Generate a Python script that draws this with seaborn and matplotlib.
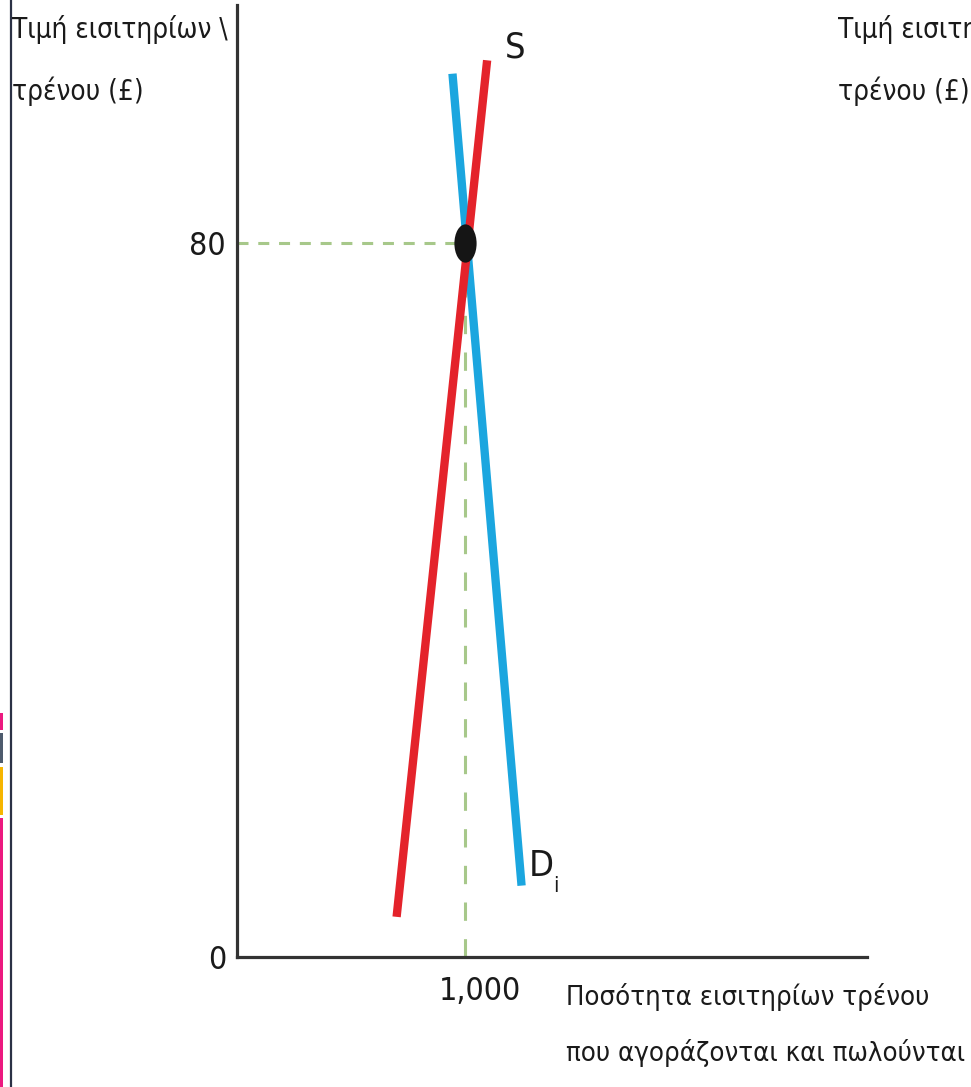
import numpy as np
import matplotlib
matplotlib.use('Agg')
import matplotlib.pyplot as plt
import seaborn as sns
from matplotlib.path import Path
from matplotlib.patches import Rectangle
from matplotlib.transforms import Affine2D, ScaledTranslation

# supply curve S and demand curve D_i (quantity, price)
s_qty = [700, 1097]
s_price = [4.5, 100.5]
d_qty = [945, 1248]
d_price = [99.0, 8.0]

eq_qty = 1000
eq_price = 80

y_ticks = [0, 80]
y_ticklabels = ['0', '80']
x_ticks = [1000]
x_ticklabels = ['1,000']

y_label = ['Τιμή εισιτηρίων \\', 'τρένου (£)']
x_label = ['Ποσότητα εισιτηρίων τρένου', 'που αγοράζονται και πωλούνται']

W, H = 971, 1087

sns.set_theme(style='white')
plt.rcParams['font.family'] = ['DejaVu Sans']
plt.rcParams['font.stretch'] = 'condensed'

fig = plt.figure(figsize=(W / 100, H / 100), dpi=100)


def px(x, y):
    return x / W, 1 - y / H


ax = fig.add_axes([237 / W, 130 / H, 630 / W, 952 / H])
ax.set_xlim(0, 2763)
ax.set_ylim(0, 106.7)

red = '#e4232b'
blue = '#1ba6df'
guide = '#a7c88a'

# dashed guides to the equilibrium
ax.plot([0, eq_qty], [eq_price, eq_price], color=guide, lw=2.2, dashes=(3.6, 3.2), zorder=1)
ax.plot([eq_qty, eq_qty], [0, eq_price], color=guide, lw=2.2, dashes=(6, 6), zorder=1)

sns.lineplot(x=s_qty, y=s_price, ax=ax, color=red, lw=6, sort=False, estimator=None,
             solid_capstyle='butt', zorder=3)
sns.lineplot(x=d_qty, y=d_price, ax=ax, color=blue, lw=6, sort=False, estimator=None,
             solid_capstyle='butt', zorder=2)

# the picture is stretched vertically, so the point is an ellipse
ell = Path.unit_circle().transformed(Affine2D().scale(0.58, 1.0))
sns.scatterplot(x=[eq_qty], y=[eq_price], ax=ax, marker=ell, s=760, color='#151515',
                linewidth=0, zorder=5)

for side in ['top', 'right']:
    ax.spines[side].set_visible(False)
for side in ['left', 'bottom']:
    ax.spines[side].set_color('#333333')
    ax.spines[side].set_linewidth(2.3)

ax.set_yticks(y_ticks, y_ticklabels)
ax.set_xticks(x_ticks, x_ticklabels)
ax.tick_params(axis='y', length=0, pad=8, labelsize=23, colors='#1a1a1a')
ax.tick_params(axis='x', length=0, pad=14, labelsize=23, colors='#1a1a1a')
for lbl in ax.get_xticklabels():
    lbl.set_transform(lbl.get_transform() + ScaledTranslation(15 / 100, 0, fig.dpi_scale_trans))
ax.grid(False)

# curve labels
fig.text(*px(505, 58), 'S', fontsize=26, color='#1a1a1a', va='baseline')
fig.text(*px(529, 876), 'D', fontsize=26, color='#1a1a1a', va='baseline')
fig.text(*px(553, 892), 'i', fontsize=16, color='#1a1a1a', va='baseline')

# axis titles
for i, line in enumerate(y_label):
    fig.text(*px(12, 38 + 62 * i), line, fontsize=20, color='#1a1a1a', va='baseline')
    fig.text(*px(838, 38 + 62 * i), line, fontsize=20, color='#1a1a1a', va='baseline')
for i, line in enumerate(x_label):
    fig.text(*px(566, 1005 + 56 * i), line, fontsize=19.7, color='#1a1a1a', va='baseline')

# page edge and coloured tabs on the left
fig.add_artist(plt.Line2D([11 / W, 11 / W], [0, 1], color='#2b3145', lw=1.6))
tabs = [(713, 730, '#ec1a80'), (733, 763, '#4e5b6d'), (767, 815, '#f6b500'), (818, 1087, '#ec1a80')]
for y0, y1, c in tabs:
    fig.add_artist(Rectangle((0, 1 - y1 / H), 3 / W, (y1 - y0) / H, color=c,
                             transform=fig.transFigure, lw=0))

fig.savefig('out.png', dpi=100)
